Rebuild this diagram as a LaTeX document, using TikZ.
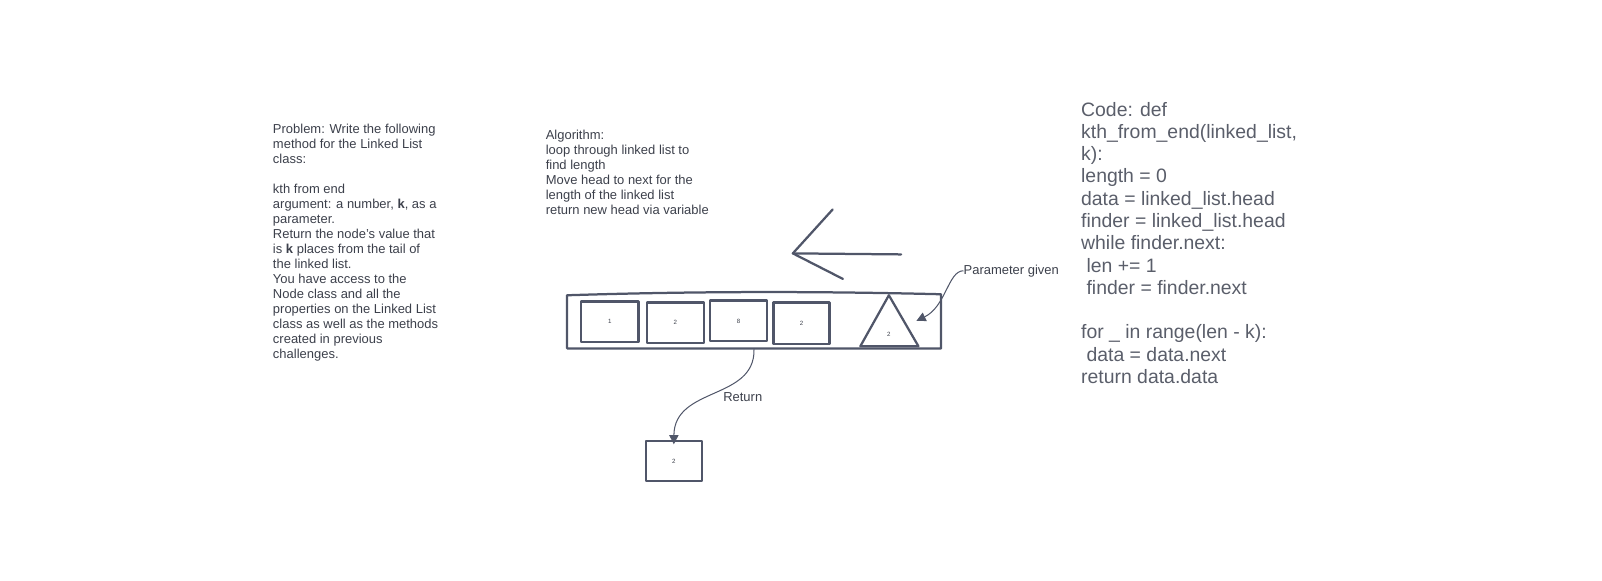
\documentclass[tikz,border=0pt]{standalone}
\usepackage{fontspec}
\setmainfont{Liberation Sans}
\usetikzlibrary{arrows.meta}
\definecolor{ink}{HTML}{505669}
\definecolor{txt}{HTML}{3C404B}
\definecolor{codetxt}{HTML}{5A5E6A}
\tikzset{
  para/.style={font=\fontsize{12.7}{14.73}\selectfont, text=txt, align=left, inner sep=0pt, anchor=north west},
  codeblk/.style={font=\fontsize{19}{21.8}\selectfont, text=codetxt, align=left, inner sep=0pt, anchor=north west},
  sk/.style={draw=ink, line width=2.2pt, line join=round, line cap=round},
  tiny/.style={font=\fontsize{6}{7}\selectfont, text=txt, inner sep=0pt},
  lbl/.style={font=\fontsize{12.7}{14.73}\selectfont, text=txt, inner sep=0pt},
  conn/.style={draw=ink, line width=1pt, -{Triangle[length=9pt,width=9pt]}},
}
\begin{document}
\begin{tikzpicture}[x=1pt,y=-1pt]
\useasboundingbox (0,0) rectangle (1568,567.7);

\node[para] (prob) at (267,121) {Problem: Write the following\\method for the Linked List\\class:\\~\\kth from end\\argument: a number, {\bfseries k}, as a\\parameter.\\Return the node's value that\\is {\bfseries k} places from the tail of\\the linked list.\\You have access to the\\Node class and all the\\properties on the Linked List\\class as well as the methods\\created in previous\\challenges.};

\node[para] (algo) at (534,127) {Algorithm:\\loop through linked list to\\find length\\Move head to next for the\\length of the linked list\\return new head via variable};

\node[codeblk] (code) at (1058,99.7) {Code: def\\kth\_from\_end(linked\_list,\\k):\\length = 0\\data = linked\_list.head\\finder = linked\_list.head\\while finder.next:\\\hspace*{0.28em}len += 1\\\hspace*{0.28em}finder = finder.next\\~\\for \_ in range(len - k):\\\hspace*{0.28em}data = data.next\\return data.data};

% big arrow
\coordinate (atop) at (815,205);
\coordinate (apex) at (776,248);
\coordinate (abot) at (825,273);
\coordinate (aend) at (882,249);
\draw[sk] (atop) -- (apex) -- (abot);
\draw[sk] (apex) -- (aend);

% outer list rectangle
\draw[sk] (555,289) .. controls (680,285) and (800,285) .. (921,288) -- (921,341) -- (555,341) -- cycle;

% inner boxes
\node[sk, minimum width=56pt, minimum height=40pt, inner sep=0pt] (b1) at (597,315) {};
\node[tiny] at (b1) {1};
\node[sk, minimum width=56pt, minimum height=40pt, inner sep=0pt] (b2) at (661,316) {};
\node[tiny] at (b2) {2};
\node[sk, minimum width=56pt, minimum height=40pt, inner sep=0pt] (b3) at (723,314) {};
\node[tiny] at ([yshift=-1pt]b3) {8};
\node[sk, minimum width=55pt, minimum height=41pt, inner sep=0pt] (b4) at (784.5,316.5) {};
\node[tiny] at (b4) {2};

% triangle
\coordinate (tA) at (870,289);
\coordinate (tB) at (842,339);
\coordinate (tC) at (899,339);
\draw[sk] (tA) -- (tB) -- (tC) -- cycle;
\node[tiny] (tri) at (870,327) {2};

% parameter given
\node[lbl, anchor=west] (param) at (943,265) {Parameter given};
\coordinate (ptip) at (897,314);
\draw[conn] (param.west) .. controls (928,265) and (926,300) .. (ptip);

% return
\coordinate (rstart) at (738,342);
\node[sk, minimum width=55pt, minimum height=39pt, inner sep=0pt] (res) at (659.5,451.5) {};
\node[tiny] at (res) {2};
\draw[conn] (rstart) .. controls (739,392) and (660,378) .. ([yshift=-4pt]res.north);
\node[lbl] (ret) at (727,389) {Return};
\end{tikzpicture}
\end{document}
